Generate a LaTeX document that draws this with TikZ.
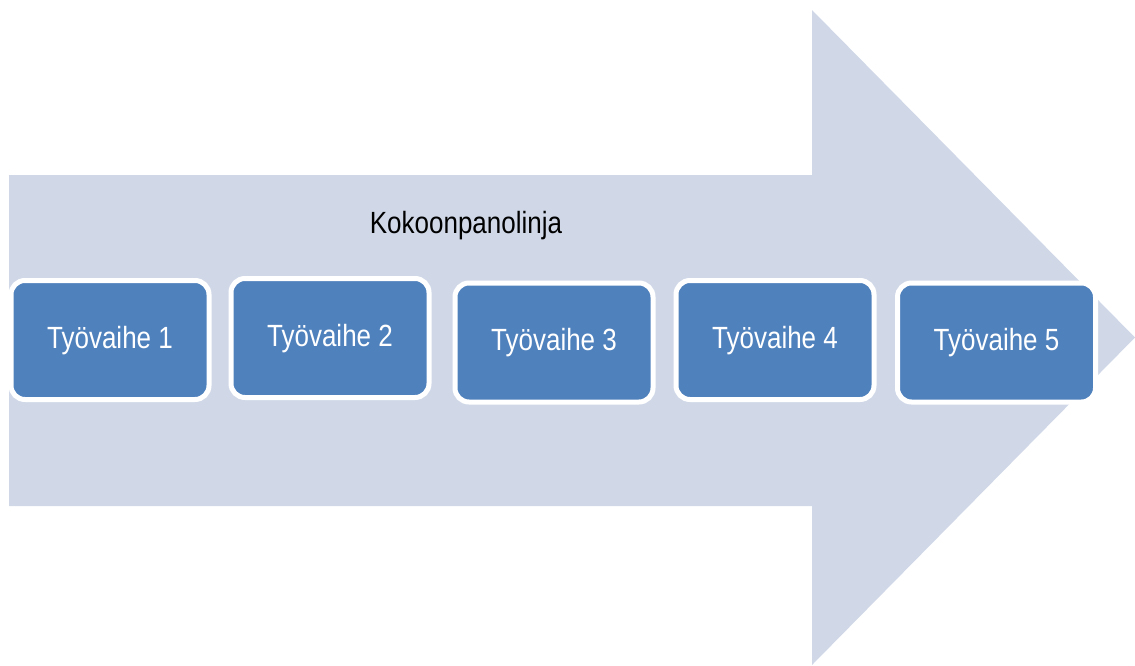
\documentclass[tikz,border=0pt]{standalone}
\usepackage{fontspec}
\setsansfont{Liberation Sans}
\definecolor{arrowfill}{HTML}{D0D8E8}
\definecolor{stepblue}{HTML}{4F81BD}
\newcommand{\tallText}[1]{\scalebox{1}[1.18]{#1}}
\tikzset{
	stepbox/.style={rectangle, rounded corners=14pt, fill=stepblue, draw=white, line width=5pt,
		minimum width=198pt, minimum height=119pt, inner sep=0pt, text=white,
		font=\sffamily\fontsize{26}{30}\selectfont},
	titletext/.style={inner sep=0pt, text=black, font=\sffamily\fontsize{26}{30}\selectfont}
}
\begin{document}
\begin{tikzpicture}[x=1pt, y=-1pt]
	%frame
	\useasboundingbox (0,0) rectangle (1135,665);
	%arrow
	\fill[arrowfill] (9,175) -- (812,175) -- (812,10) -- (1135,337.5)
	-- (812,665) -- (812,506) -- (9,506) -- cycle;
	%title
	\node[titletext, anchor=base] (title) at (466,233) {\tallText{Kokoonpanolinja}};
	%steps
	\foreach \n/\x/\y in {
		1/110/340,
		2/330/338,
		3/554/342.5,
		4/775/340,
		5/996.5/342.5
	}
	\node[stepbox, text depth=6pt] (step\n) at (\x,\y) {\tallText{Työvaihe \n}};
\end{tikzpicture}
\end{document}
